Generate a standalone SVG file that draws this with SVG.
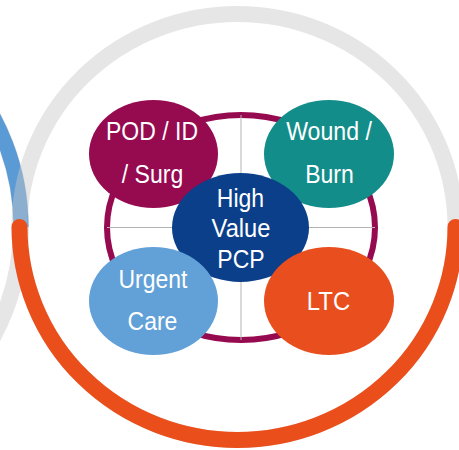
<svg xmlns="http://www.w3.org/2000/svg" width="459" height="450" viewBox="0 0 459 450">
  <style>
    .ring { fill: none; stroke: #c8c8c8; stroke-opacity: 0.45; stroke-width: 16; }
    .cross { stroke: #b4b4b4; stroke-width: 1; fill: none; }
    .lbl { font-family: "Liberation Sans", Arial, sans-serif; font-size: 25px; fill: #ffffff; text-anchor: middle; }
  </style>
  <rect width="459" height="450" fill="#ffffff"/>

  <!-- neighbouring cycle on the left -->
  <g id="left-cycle">
    <ellipse class="ring" cx="-197" cy="227" rx="218" ry="225"/>
    <path d="M -197 2 A 218 225 0 0 1 21 227" fill="none" stroke="#5b9bd5" stroke-width="15"/>
  </g>

  <!-- main cycle -->
  <g id="main-cycle">
    <ellipse class="ring" cx="237.5" cy="227" rx="218" ry="213"/>
    <path d="M 19.5 227 A 218 213 0 0 0 455.5 227" fill="none" stroke="#e94e1b" stroke-width="16" stroke-linecap="round"/>
  </g>

  <!-- inner ring with quadrant lines -->
  <g id="connectors">
    <ellipse cx="241" cy="227.5" rx="134" ry="112.5" fill="none" stroke="#960a50" stroke-width="6"/>
    <line class="cross" x1="107" y1="227.5" x2="375" y2="227.5"/>
    <line class="cross" x1="241" y1="115" x2="241" y2="340"/>
  </g>

  <g id="pod-id-surg">
    <ellipse cx="153.5" cy="154" rx="64.5" ry="54" fill="#960a50"/>
    <text class="lbl" x="152" y="140" textLength="92" lengthAdjust="spacingAndGlyphs">POD / ID</text>
    <text class="lbl" x="152.5" y="183" textLength="61.4" lengthAdjust="spacingAndGlyphs">/ Surg</text>
  </g>

  <g id="wound-burn">
    <ellipse cx="329" cy="154" rx="65" ry="54" fill="#138d8a"/>
    <text class="lbl" x="329" y="140" textLength="85.7" lengthAdjust="spacingAndGlyphs">Wound /</text>
    <text class="lbl" x="329.5" y="183" textLength="48.6" lengthAdjust="spacingAndGlyphs">Burn</text>
  </g>

  <g id="high-value-pcp">
    <ellipse cx="240.5" cy="227.5" rx="68.5" ry="54.5" fill="#0b3f8a"/>
    <text class="lbl" x="240.5" y="207" textLength="47.3" lengthAdjust="spacingAndGlyphs">High</text>
    <text class="lbl" x="241" y="237" textLength="58.8" lengthAdjust="spacingAndGlyphs">Value</text>
    <text class="lbl" x="241" y="268" textLength="47.3" lengthAdjust="spacingAndGlyphs">PCP</text>
  </g>

  <g id="urgent-care">
    <ellipse cx="153.5" cy="301" rx="64.5" ry="54" fill="#62a0d8"/>
    <text class="lbl" x="153" y="288" textLength="69" lengthAdjust="spacingAndGlyphs">Urgent</text>
    <text class="lbl" x="152.5" y="330" textLength="49.8" lengthAdjust="spacingAndGlyphs">Care</text>
  </g>

  <g id="ltc">
    <ellipse cx="329" cy="301" rx="65" ry="54" fill="#e94e1e"/>
    <text class="lbl" x="328.5" y="310" textLength="43.4" lengthAdjust="spacingAndGlyphs">LTC</text>
  </g>
</svg>
